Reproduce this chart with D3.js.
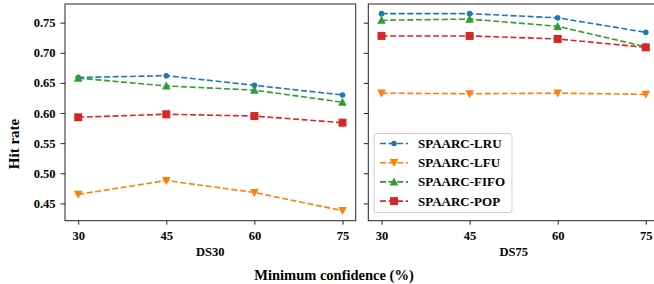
<!DOCTYPE html>
<html>
<head>
<meta charset="utf-8">
<script src="https://cdn.jsdelivr.net/npm/d3@7"></script>
<style>
    body { margin: 0; background: #fff; }
    svg { display: block; font-family: "Liberation Serif", "DejaVu Serif", serif; font-weight: bold; }
</style>
</head>
<body>
<div id="chart"></div>
<script>
const confidence = [30, 45, 60, 75];
const yTicks = [0.45, 0.50, 0.55, 0.60, 0.65, 0.70, 0.75];
const panelNames = ['DS30', 'DS75'];
const seriesNames = ['SPAARC-LRU', 'SPAARC-LFU', 'SPAARC-FIFO', 'SPAARC-POP'];

// DS30
const lru30  = [0.659, 0.662, 0.646, 0.630];
const lfu30  = [0.465, 0.488, 0.468, 0.438];
const fifo30 = [0.658, 0.645, 0.638, 0.618];
const pop30  = [0.593, 0.598, 0.595, 0.584];

// DS75
const lru75  = [0.765, 0.765, 0.758, 0.734];
const lfu75  = [0.633, 0.632, 0.633, 0.631];
const fifo75 = [0.754, 0.756, 0.744, 0.710];
const pop75  = [0.728, 0.728, 0.723, 0.709];

const colors = ['#1f77b4', '#ff7f0e', '#2ca02c', '#d62728'];
const markers = ['circle', 'down', 'up', 'square'];

const panelData = [
    [lru30, lfu30, fifo30, pop30],
    [lru75, lfu75, fifo75, pop75]
];

const width = 654, height = 284;
const plotTop = 4, plotBottom = 220.7;
const panelX = [[65, 355.7], [368.3, 659]];

const svg = d3.select('#chart').append('svg')
    .attr('width', width)
    .attr('height', height);

const y = d3.scaleLinear()
    .domain([0.4213, 0.781])
    .range([plotBottom, plotTop]);

function markerPath(kind) {
    if (kind === 'down') return 'M-4.3,-3.6L4.3,-3.6L0,4.4Z';
    if (kind === 'up') return 'M-4.3,3.6L4.3,3.6L0,-4.4Z';
    return 'M-4,-4L4,-4L4,4L-4,4Z';
}

function drawMarker(g, kind, color, cx, cy) {
    if (kind === 'circle') {
        g.append('circle')
            .attr('cx', cx).attr('cy', cy).attr('r', 2.8)
            .attr('fill', color);
    } else {
        g.append('path')
            .attr('d', markerPath(kind))
            .attr('transform', `translate(${cx},${cy})`)
            .attr('fill', color);
    }
}

panelNames.forEach((name, p) => {
    const x = d3.scaleLinear()
        .domain([27.75, 77.25])
        .range(panelX[p]);

    const g = svg.append('g');

    // lines + markers
    const line = d3.line()
        .x((d, i) => x(confidence[i]))
        .y(d => y(d));

    panelData[p].forEach((values, s) => {
        g.append('path')
            .datum(values)
            .attr('d', line)
            .attr('fill', 'none')
            .attr('stroke', colors[s])
            .attr('stroke-width', 1.6)
            .attr('stroke-dasharray', '6,2.6');
        values.forEach((v, i) => drawMarker(g, markers[s], colors[s], x(confidence[i]), y(v)));
    });

    // frame
    g.append('rect')
        .attr('x', panelX[p][0])
        .attr('y', plotTop)
        .attr('width', panelX[p][1] - panelX[p][0])
        .attr('height', plotBottom - plotTop)
        .attr('fill', 'none')
        .attr('stroke', '#222')
        .attr('stroke-width', 1);

    // x axis
    const xAxis = g.append('g')
        .attr('transform', `translate(0,${plotBottom})`)
        .call(d3.axisBottom(x).tickValues(confidence).tickSize(4).tickPadding(6.5));
    xAxis.select('.domain').remove();
    xAxis.selectAll('text').attr('font-size', 12.5).attr('fill', '#000')
        .style('font-family', '"Liberation Serif", serif').style('font-weight', 'bold');
    xAxis.selectAll('line').attr('stroke', '#222');

    // y axis
    const yAxis = g.append('g')
        .attr('transform', `translate(${panelX[p][0]},0)`)
        .call(d3.axisLeft(y).tickValues(yTicks).tickSize(4.5).tickPadding(5)
            .tickFormat(p === 0 ? d3.format('.2f') : () => ''));
    yAxis.select('.domain').remove();
    yAxis.selectAll('text').attr('font-size', 12.5).attr('fill', '#000')
        .style('font-family', '"Liberation Serif", serif').style('font-weight', 'bold');
    yAxis.selectAll('line').attr('stroke', '#222');

    // panel label
    svg.append('text')
        .attr('x', (panelX[p][0] + Math.min(panelX[p][1], 655)) / 2 + (p === 1 ? 2 : 0))
        .attr('y', 256)
        .attr('text-anchor', 'middle')
        .attr('font-size', 12.5)
        .text(name);
});

// y label
svg.append('text')
    .attr('transform', 'translate(19,144) rotate(-90)')
    .attr('text-anchor', 'middle')
    .attr('font-size', 15)
    .text('Hit rate');

// x label
svg.append('text')
    .attr('x', 334)
    .attr('y', 280)
    .attr('text-anchor', 'middle')
    .attr('font-size', 14.5)
    .text('Minimum confidence (%)');

// legend
const legend = svg.append('g').attr('transform', 'translate(374,133.5)');
legend.append('rect')
    .attr('width', 138)
    .attr('height', 79)
    .attr('rx', 3)
    .attr('fill', 'rgba(255,255,255,0.8)')
    .attr('stroke', '#d0d0d0');

seriesNames.forEach((name, s) => {
    const ly = 10 + s * 19.2;
    legend.append('line')
        .attr('x1', 6).attr('x2', 34)
        .attr('y1', ly).attr('y2', ly)
        .attr('stroke', colors[s])
        .attr('stroke-width', 1.6)
        .attr('stroke-dasharray', '6,2.6');
    drawMarker(legend, markers[s], colors[s], 20, ly);
    legend.append('text')
        .attr('x', 44)
        .attr('y', ly + 4.5)
        .attr('font-size', 13)
        .text(name);
});
</script>
</body>
</html>
